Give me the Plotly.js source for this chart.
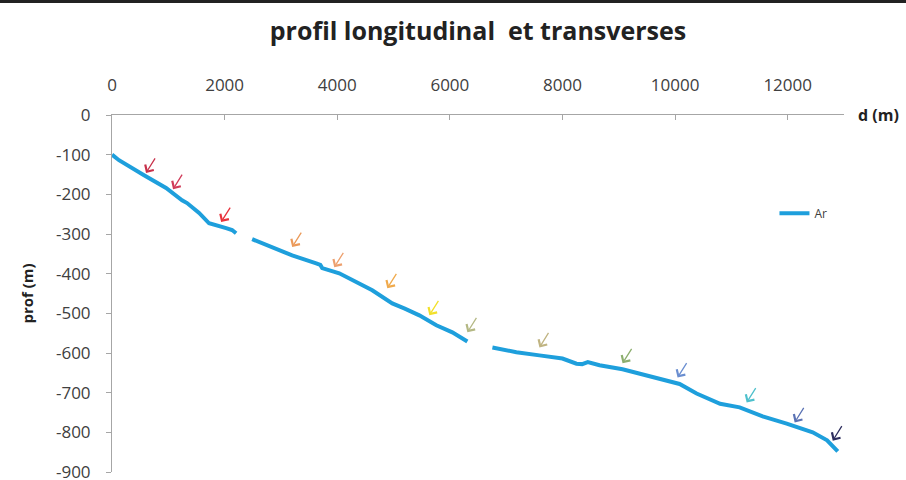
<!DOCTYPE html>
<html>
<head>
<meta charset="utf-8">
<script src="https://cdn.plot.ly/plotly-3.0.1.min.js"></script>
<style>html,body{margin:0;padding:0;background:#fff;}#chart{width:906px;height:480px;}</style>
</head>
<body>
<div id="chart"></div>
<script>
// Profile distance (m) and depth (m); null = gap in the profile
const distance = [0, 124, 569, 960, 1244, 1333, 1547, 1724, 2027, 2133, 2204, null,
  2489, 2844, 3200, 3627, 3700, 3733, 4036, 4622, 4978, 5200, 5458, 5760, 6044, 6311, null,
  6756, 7182, 7591, 8000, 8249, 8350, 8450, 8658, 9067, 9671, 10080, 10382, 10800, 11147, 11556, 11982, 12444, 12700, 12889];
const depth = [-100, -114, -152, -184, -215, -222, -247, -273, -285, -290, -298, null,
  -313, -333, -354, -374, -378, -386, -399, -442, -475, -488, -505, -530, -548, -571, null,
  -586, -598, -606, -614, -627, -628, -623, -631, -641, -664, -678, -702, -728, -737, -760, -778, -800, -820, -848];

// Transverse profile locations (arrow tips)
const arrowD = [604, 1084, 1938, 3200, 3947, 4889, 5636, 6311, 7591, 9067, 10044, 11271, 12124, 12800];
const arrowP = [-146, -187, -270, -333, -384, -437, -505, -548, -586, -626, -662, -725, -775, -821];
const arrowColors = ['#c8304a', '#d03c5a', '#e8323c', '#eb9a5a', '#eda06e', '#f0aa4c', '#f2e02a',
  '#b4b884', '#c0b482', '#8cae6e', '#6a8ed0', '#4ec0cc', '#5a72b4', '#2e2e5e'];

const xTicks = [0, 2000, 4000, 6000, 8000, 10000, 12000];
const yTicks = [0, -100, -200, -300, -400, -500, -600, -700, -800, -900];

const font = 'Open Sans, Noto Sans, sans-serif';

const annotations = arrowD.map((d, i) => ({
  x: d, y: arrowP[i], xref: 'x', yref: 'y',
  ax: 10, ay: -16, axref: 'pixel', ayref: 'pixel',
  showarrow: true, arrowhead: 4, arrowsize: 1.5, arrowwidth: 1.3,
  arrowcolor: arrowColors[i], text: ''
}));
annotations.push({
  x: 1, xref: 'paper', y: 1, yref: 'paper', xanchor: 'left', yanchor: 'middle',
  xshift: 12, showarrow: false, text: '<b>d (m)</b>',
  font: {family: font, size: 16, color: '#222'}
});

const trace = {
  x: distance, y: depth, mode: 'lines', name: 'Ar',
  line: {color: '#1e9fdc', width: 4}, connectgaps: false
};

const layout = {
  width: 906, height: 480,
  margin: {l: 112, r: 62, t: 115, b: 8},
  paper_bgcolor: '#fff', plot_bgcolor: '#fff',
  title: {text: '<b>profil longitudinal\u00a0 et transverses</b>', x: 0.5, xref: 'paper', y: 0.935, yanchor: 'middle',
    font: {family: font, size: 25, color: '#222'}},
  xaxis: {side: 'top', range: [0, 13000], tickvals: xTicks, ticktext: xTicks.map(String),
    showgrid: false, zeroline: false, showline: true, linecolor: '#a6a6a6', linewidth: 1,
    ticks: 'inside', ticklen: 5, tickcolor: '#a6a6a6', ticklabelstandoff: 16,
    tickfont: {family: font, size: 17, color: '#404040'}},
  yaxis: {range: [-900, 0], tickvals: yTicks, ticktext: yTicks.map(String),
    showgrid: false, zeroline: false, showline: true, linecolor: '#a6a6a6', linewidth: 1,
    ticks: 'outside', ticklen: 5, tickcolor: '#a6a6a6', ticklabelstandoff: 12,
    ticklabeloverflow: 'allow',
    tickfont: {family: font, size: 17, color: '#404040'},
    title: {text: '<b>prof (m)</b>', standoff: 18, font: {family: font, size: 15, color: '#222'}}},
  showlegend: true,
  legend: {x: 0.905, y: 0.725, xanchor: 'left', yanchor: 'middle', bgcolor: 'rgba(0,0,0,0)',
    font: {family: font, size: 12, color: '#404040'}},
  annotations: annotations,
  shapes: [{type: 'line', xref: 'paper', yref: 'paper', x0: -0.16, x1: 1.09, y0: 1.318, y1: 1.318,
    line: {color: '#222', width: 3}}]
};

Plotly.newPlot('chart', [trace], layout, {displayModeBar: false, staticPlot: true});
</script>
</body>
</html>
